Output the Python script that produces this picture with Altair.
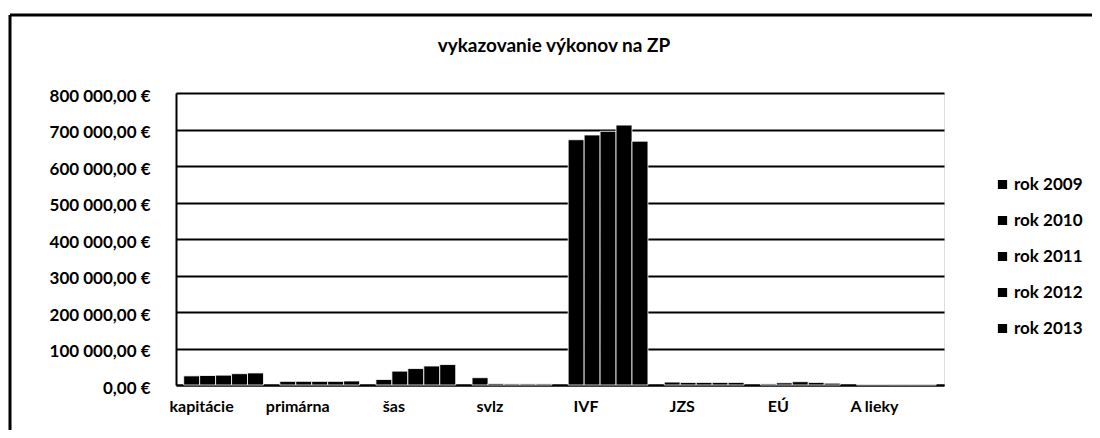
import altair as alt
import pandas as pd

title_text = ["vykazovanie výkonov na ZP"]
categories = ["kapitácie", "primárna", "šas", "svlz", "IVF", "JZS", "EÚ", "A lieky"]
years = ["rok 2009", "rok 2010", "rok 2011", "rok 2012", "rok 2013"]
v2009 = [25000, 10000, 15000, 20000, 672000, 8000, 3000, 1500]
v2010 = [26000, 10000, 38000, 4000, 685000, 7000, 6000, 1500]
v2011 = [27000, 10000, 45000, 3000, 695000, 7000, 9000, 1000]
v2012 = [31000, 10000, 52000, 3000, 712000, 7000, 7000, 1000]
v2013 = [33000, 11000, 56000, 3000, 668000, 7000, 5000, 1000]
y_ticks = [0, 100000, 200000, 300000, 400000, 500000, 600000, 700000, 800000]

series = [v2009, v2010, v2011, v2012, v2013]
rows = []
for yr, vals in zip(years, series):
    for c, v in zip(categories, vals):
        rows.append({"kategória": c, "rok": yr, "hodnota": v})
df = pd.DataFrame(rows)

FONT = "Lato"

bars = alt.Chart(df).mark_bar(stroke="white", strokeWidth=0.8, color="black").encode(
    x=alt.X("kategória:N", sort=categories,
            scale=alt.Scale(paddingInner=0.17, paddingOuter=0.08),
            axis=alt.Axis(title=None, labelAngle=0, labelFont=FONT, labelFontSize=16,
                          labelFontWeight="bold", labelColor="black", labelPadding=13,
                          labelOffset=-22, ticks=False, domainColor="black",
                          domainWidth=2)),
    xOffset=alt.XOffset("rok:N", sort=years),
    y=alt.Y("hodnota:Q", scale=alt.Scale(domain=[0, 800000], nice=False),
            axis=alt.Axis(title=None, values=y_ticks, labelFont=FONT, labelFontSize=17,
                          labelFontWeight="bold", labelColor="black", labelPadding=26,
                          ticks=False, domainColor="black", domainWidth=2,
                          grid=True, gridColor="black", gridWidth=2, labelOffset=3,
                          labelExpr="datum.value == 0 ? '0,00 €' : format(datum.value/1000, 'd') + ' 000,00 €'")),
    color=alt.Color("rok:N", sort=years,
                    scale=alt.Scale(domain=years, range=["#000000"] * 5),
                    legend=alt.Legend(title=None, orient="none", legendX=818, legendY=83,
                                      symbolType="square", symbolSize=60,
                                      symbolFillColor="black", symbolStrokeColor="black",
                                      labelFont=FONT, labelFontSize=17, labelFontWeight="bold",
                                      labelColor="black", rowPadding=18, labelOffset=3)),
)

title = alt.Chart(pd.DataFrame({"t": title_text})).mark_text(
    font=FONT, fontSize=19, fontWeight="bold", color="black", align="center", baseline="middle"
).encode(x=alt.value(378), y=alt.value(-47), text="t:N")

frame_left = alt.Chart(pd.DataFrame({"a": [0]})).mark_rule(color="black", strokeWidth=3).encode(
    x=alt.value(-166), y=alt.value(-78), y2=alt.value(345))
frame_top = alt.Chart(pd.DataFrame({"a": [0]})).mark_rule(color="black", strokeWidth=3).encode(
    x=alt.value(-166), x2=alt.value(930), y=alt.value(-78))

chart = alt.layer(bars, title, frame_left, frame_top).properties(
    width=768, height=292,
    autosize=alt.AutoSizeParams(type="none"),
    padding={"left": 168, "top": 85, "right": 148, "bottom": 45},
).configure_view(stroke=None).configure(background="white")

chart.save("out.html", embed_options={"renderer": "svg", "actions": False})
